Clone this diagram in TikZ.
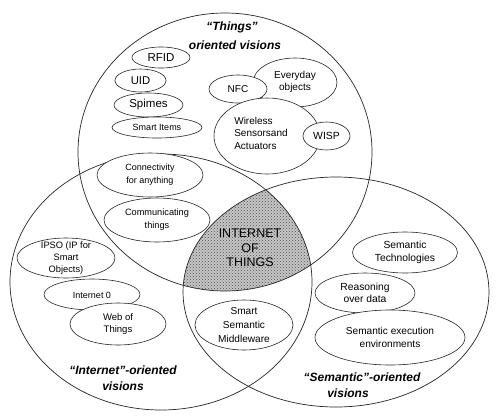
\documentclass[tikz,border=0pt]{standalone}
\usepackage{fontspec}
\setmainfont{Liberation Sans}
\usetikzlibrary{shapes.geometric,patterns}
\begin{document}
\begin{tikzpicture}[x=1pt,y=-1pt,
  big/.style={draw=black!85, line width=0.7pt},
  elps/.style={ellipse, draw=black!85, line width=0.6pt, fill=white, inner sep=0pt},
  lbl/.style={align=center, inner sep=0pt, font=\fontsize{10}{12.5}\selectfont},
  ttl/.style={align=center, inner sep=0pt, font=\fontsize{12}{16}\selectfont\bfseries\itshape}]
\useasboundingbox (0,0) rectangle (499,416);
\fill[white] (0,0) rectangle (499,416);
% hatched intersection
\begin{scope}
  \clip (225,152) ellipse [x radius=147, y radius=139];
  \clip (161,282) ellipse [x radius=151, y radius=128];
  \fill[black!22] (336,292) ellipse [x radius=153, y radius=115];
  \fill[pattern=crosshatch dots, pattern color=black!70] (336,292) ellipse [x radius=153, y radius=115];
\end{scope}
% big circles
\draw[big] (225,152) ellipse [x radius=147, y radius=139];
\draw[big] (161,282) ellipse [x radius=151, y radius=128];
\draw[big] (336,292) ellipse [x radius=153, y radius=115];
% Things
\node[elps, minimum width=58, minimum height=21] (rfid) at (161,57.5) {};
\node[elps, minimum width=51, minimum height=23] (uid) at (140.5,80.5) {};
\node[elps, minimum width=69, minimum height=24] (spimes) at (148.5,105) {};
\node[elps, minimum width=90, minimum height=21] (smartitems) at (157,127.5) {};
\node[elps, minimum width=84, minimum height=49] (everyday) at (295,82.5) {};
\node[elps, minimum width=58, minimum height=28] (nfc) at (238,89) {};
\node[elps, minimum width=106, minimum height=76] (wireless) at (267,136) {};
\node[elps, minimum width=47, minimum height=28] (wisp) at (326.5,136) {};
% Internet
\node[elps, minimum width=106, minimum height=44] (connect) at (150,175) {};
\node[elps, minimum width=106, minimum height=44] (communic) at (157,220) {};
\node[elps, minimum width=98, minimum height=40] (ipso) at (66,258) {};
\node[elps, minimum width=96, minimum height=31] (inet0) at (92,294.5) {};
\node[elps, minimum width=96, minimum height=42] (web) at (118,324) {};
% Semantic
\node[elps, minimum width=98, minimum height=50] (ssm) at (244,325) {};
\node[elps, minimum width=105, minimum height=41] (semtech) at (405,252.5) {};
\node[elps, minimum width=100, minimum height=40] (reason) at (365,293) {};
\node[elps, minimum width=150, minimum height=55] (semexec) at (390,337.5) {};
% labels
\node[lbl, font=\fontsize{11.5}{13}\selectfont] at (rfid) {RFID};
\node[lbl, font=\fontsize{11.3}{13}\selectfont] at (uid) {UID};
\node[lbl, font=\fontsize{11.5}{13}\selectfont] at (spimes) {Spimes};
\node[lbl, font=\fontsize{9}{11}\selectfont] at (smartitems) {Smart Items};
\node[lbl] at (nfc) {NFC};
\node[lbl, yshift=0.5] at (everyday) {Everyday\\objects};
\node[lbl, align=left] at (261,133) {Wireless\\Sensorsand\\Actuators};
\node[lbl, font=\fontsize{10.4}{12}\selectfont] at (wisp) {WISP};
\node[lbl, font=\fontsize{9}{13}\selectfont] at (connect) {Connectivity\\for anything};
\node[lbl, font=\fontsize{9.2}{13}\selectfont] at (communic) {Communicating\\things};
\node[lbl, font=\fontsize{9.3}{12}\selectfont] at (ipso) {IPSO (IP for\\Smart\\Objects)};
\node[lbl, font=\fontsize{9}{11}\selectfont, yshift=-1] at (inet0) {Internet 0};
\node[lbl, font=\fontsize{9.5}{12}\selectfont] at (web) {Web of\\Things};
\node[lbl, font=\fontsize{10.1}{14}\selectfont] at (ssm) {Smart\\Semantic\\Middleware};
\node[lbl, font=\fontsize{10.3}{12.5}\selectfont] at (semtech) {Semantic\\Technologies};
\node[lbl, font=\fontsize{10.3}{12.5}\selectfont] at (reason) {Reasoning\\over data};
\node[lbl, font=\fontsize{10.1}{13}\selectfont] at (semexec) {Semantic execution\\environments};
\node[lbl, font=\fontsize{12.5}{14.5}\selectfont] (iot) at (250,248) {INTERNET\\OF\\THINGS};
% titles
\node[ttl] (ttlthings1) at (232,27) {“Things”};
\node[ttl] (ttlthings2) at (235,45) {oriented visions};
\node[ttl] (ttlinet) at (123,378) {“Internet”-oriented\\visions};
\node[ttl] (ttlsem1) at (362,377) {“Semantic”-oriented};
\node[ttl] (ttlsem2) at (348,393) {visions};
\end{tikzpicture}
\end{document}
